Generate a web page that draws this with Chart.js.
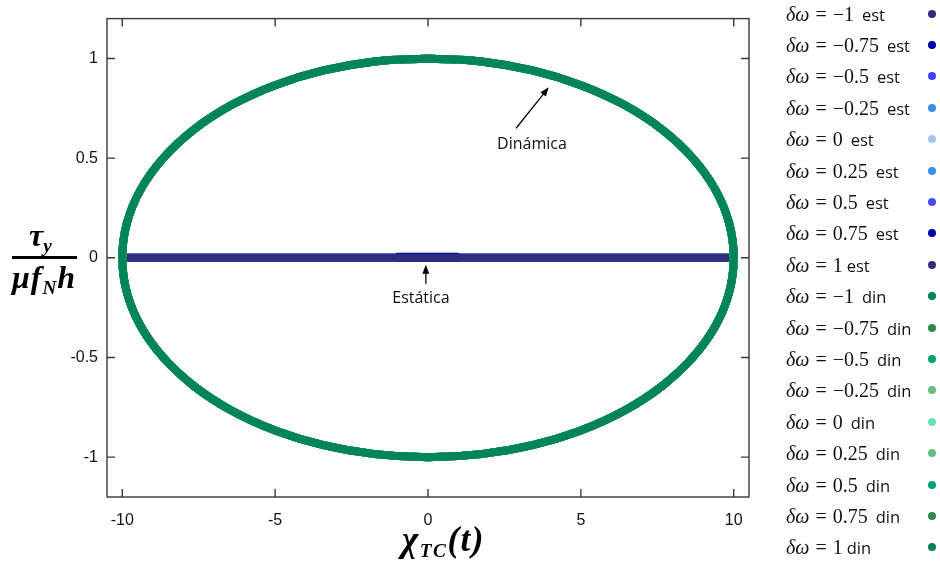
<!DOCTYPE html>
<html>
<head>
<meta charset="utf-8">
<script src="https://cdn.jsdelivr.net/npm/chart.js@4.4.0/dist/chart.umd.min.js"></script>
<style>
  html, body { margin: 0; padding: 0; background: #fff; }
  #wrap { position: relative; width: 940px; height: 563px; overflow: hidden; }
  #wrap canvas { position: absolute; left: 0; top: 0; }
  .row { position: absolute; left: 786px; height: 22px; line-height: 22px; white-space: nowrap; color: #111; }
  .math { font-family: "Liberation Serif", serif; font-size: 20px; word-spacing: 1px; }
  .math i { font-style: italic; }
  .word { font-family: "Open Sans", sans-serif; font-size: 16.5px; }
  .dot { position: absolute; left: 928px; width: 8px; height: 8px; border-radius: 50%; }
  .ttl { position: absolute; font-family: "Liberation Serif", serif; font-weight: bold; font-style: italic; color: #000; white-space: nowrap; }
  .ttl sub { font-size: 60%; vertical-align: baseline; position: relative; top: 0.3em; }
</style>
</head>
<body>
<div id="wrap">
  <canvas id="chart" width="940" height="563"></canvas>
  <div id="legend"></div>
  <div class="ttl" style="left:29px; top:217px; font-size:32px;">τ<sub>y</sub></div>
  <div style="position:absolute; left:12px; top:256px; width:65px; height:3px; background:#000;"></div>
  <div class="ttl" style="left:12px; top:259px; font-size:32px; letter-spacing:1px;">μf<sub>N</sub>h</div>
  <div class="ttl" style="left:402px; top:520px; font-size:35px; letter-spacing:1.5px;">χ<sub style="font-size:55%">TC</sub>(t)</div>
</div>
<script>
// δω values of the runs, and the colours used for each family
const dwLabels = ['−1', '−0.75', '−0.5', '−0.25', '0', '0.25', '0.5', '0.75', '1'];
const estColors = ['#2e2e7c', '#0000a4', '#4444f4', '#3a8fe4', '#a0c6ee', '#3a8fe4', '#4a4af2', '#0000a4', '#2e2e7c'];
const dinColors = ['#00845a', '#2e8a4c', '#009f78', '#68c07c', '#68dfc0', '#68c07c', '#009f78', '#2e8a4c', '#00845a'];

// static runs: flat line along the whole stroke
const chiEst = [-10, -9, -8, -7, -6, -5, -4, -3, -2, -1, 0, 1, 2, 3, 4, 5, 6, 7, 8, 9, 10];
const tauEst = [0, 0, 0, 0, 0, 0, 0, 0, 0, 0, 0, 0, 0, 0, 0, 0, 0, 0, 0, 0, 0];
// short static run around the centre
const chiEstMid = [-1.05, -0.5, 0, 0.5, 1.0];
const tauEstMid = [0.003, 0.003, 0.003, 0.003, 0.003];

// dynamic runs: closed loop, starting at the top
const chiDin = [0, 1.74, 3.42, 5.00, 6.43, 7.66, 8.66, 9.40, 9.85, 10, 9.85, 9.40, 8.66, 7.66, 6.43, 5.00, 3.42, 1.74,
  0, -1.74, -3.42, -5.00, -6.43, -7.66, -8.66, -9.40, -9.85, -10, -9.85, -9.40, -8.66, -7.66, -6.43, -5.00, -3.42, -1.74, 0];
const tauDin = [1, 0.985, 0.94, 0.866, 0.766, 0.643, 0.5, 0.342, 0.174, 0, -0.174, -0.342, -0.5, -0.643, -0.766, -0.866, -0.94, -0.985,
  -1, -0.985, -0.94, -0.866, -0.766, -0.643, -0.5, -0.342, -0.174, 0, 0.174, 0.342, 0.5, 0.643, 0.766, 0.866, 0.94, 0.985, 1];

const xTicks = [-10, -5, 0, 5, 10];
const yTicks = [-1, -0.5, 0, 0.5, 1];

function pts(xs, ys) {
  return xs.map(function(x, i) { return { x: x, y: ys[i] }; });
}

var datasets = [];
var n = 0;
dwLabels.forEach(function(dw, i) {
  var mid = (i === 7);
  datasets.push({
    label: 'δω = ' + dw + ' est',
    data: mid ? pts(chiEstMid, tauEstMid) : pts(chiEst, tauEst),
    borderColor: estColors[i],
    backgroundColor: estColors[i],
    showLine: true,
    borderWidth: mid ? 9 : 8,
    pointRadius: 0,
    order: 40 - n++
  });
});
dwLabels.forEach(function(dw, i) {
  datasets.push({
    label: 'δω = ' + dw + ' din',
    data: pts(chiDin, tauDin),
    borderColor: dinColors[i],
    backgroundColor: dinColors[i],
    showLine: true,
    tension: 0.4,
    borderWidth: 8,
    pointRadius: 0,
    order: 40 - n++
  });
});

// frame, inward tick marks on all four sides, and the two labelled arrows
const framePlugin = {
  id: 'frame',
  afterDatasetsDraw: function(chart) {
    var ctx = chart.ctx, a = chart.chartArea;
    var sx = chart.scales.x, sy = chart.scales.y;
    ctx.save();
    ctx.strokeStyle = '#3a3a3a';
    ctx.lineWidth = 1.4;
    ctx.strokeRect(a.left, a.top, a.right - a.left, a.bottom - a.top);
    ctx.beginPath();
    xTicks.forEach(function(v) {
      var px = sx.getPixelForValue(v);
      ctx.moveTo(px, a.bottom); ctx.lineTo(px, a.bottom - 8);
      ctx.moveTo(px, a.top); ctx.lineTo(px, a.top + 8);
    });
    yTicks.forEach(function(v) {
      var py = sy.getPixelForValue(v);
      ctx.moveTo(a.left, py); ctx.lineTo(a.left + 8, py);
      ctx.moveTo(a.right, py); ctx.lineTo(a.right - 8, py);
    });
    ctx.stroke();

    function arrow(x0, y0, x1, y1) {
      var p0x = sx.getPixelForValue(x0), p0y = sy.getPixelForValue(y0);
      var p1x = sx.getPixelForValue(x1), p1y = sy.getPixelForValue(y1);
      var ang = Math.atan2(p1y - p0y, p1x - p0x);
      ctx.strokeStyle = '#000';
      ctx.fillStyle = '#000';
      ctx.lineWidth = 1.3;
      ctx.beginPath();
      ctx.moveTo(p0x, p0y);
      ctx.lineTo(p1x - 6 * Math.cos(ang), p1y - 6 * Math.sin(ang));
      ctx.stroke();
      ctx.beginPath();
      ctx.moveTo(p1x, p1y);
      ctx.lineTo(p1x - 9 * Math.cos(ang) + 3.5 * Math.sin(ang), p1y - 9 * Math.sin(ang) - 3.5 * Math.cos(ang));
      ctx.lineTo(p1x - 9 * Math.cos(ang) - 3.5 * Math.sin(ang), p1y - 9 * Math.sin(ang) + 3.5 * Math.cos(ang));
      ctx.closePath();
      ctx.fill();
    }
    arrow(2.88, 0.65, 3.95, 0.855);
    arrow(-0.07, -0.13, -0.07, -0.035);

    ctx.font = '16px "Open Sans", sans-serif';
    ctx.fillStyle = '#111';
    ctx.textAlign = 'center';
    ctx.textBaseline = 'middle';
    ctx.fillText('Dinámica', sx.getPixelForValue(3.4), sy.getPixelForValue(0.57));
    ctx.fillText('Estática', sx.getPixelForValue(-0.23), sy.getPixelForValue(-0.205));
    ctx.restore();
  }
};

var chart = new Chart(document.getElementById('chart'), {
  type: 'scatter',
  data: { datasets: datasets },
  options: {
    responsive: false,
    animation: false,
    layout: { autoPadding: false, padding: { top: 18, right: 191, left: 0, bottom: 0 } },
    plugins: { legend: { display: false }, tooltip: { enabled: false } },
    scales: {
      x: {
        min: -10.5, max: 10.5,
        grid: { display: false, drawTicks: false },
        border: { display: false },
        afterBuildTicks: function(s) { s.ticks = xTicks.map(function(v) { return { value: v }; }); },
        afterFit: function(s) { s.height = 66; },
        ticks: {
          padding: 14,
          color: '#111',
          font: { family: '"Liberation Sans", sans-serif', size: 16 },
          callback: function(v) { return String(v); }
        }
      },
      y: {
        min: -1.2, max: 1.2,
        grid: { display: false, drawTicks: false },
        border: { display: false },
        afterBuildTicks: function(s) { s.ticks = yTicks.map(function(v) { return { value: v }; }); },
        afterFit: function(s) { s.width = 107; },
        ticks: {
          padding: 9,
          color: '#111',
          font: { family: '"Liberation Sans", sans-serif', size: 16 },
          callback: function(v) { return String(v); }
        }
      }
    }
  },
  plugins: [framePlugin]
});

// legend down the right side, text first and dot after
var legend = document.getElementById('legend');
datasets.forEach(function(ds, i) {
  var cy = 13.5 + i * 31.4;
  var kind = i < 9 ? 'est' : 'din';
  var dw = dwLabels[i % 9];
  var row = document.createElement('div');
  row.className = 'row';
  row.style.top = (cy - 11) + 'px';
  row.innerHTML = '<span class="math"><i>δω</i> = ' + dw + '</span>' +
    (dw === '1' ? ' ' : '&nbsp; ') + '<span class="word">' + kind + '</span>';
  legend.appendChild(row);
  var dot = document.createElement('div');
  dot.className = 'dot';
  dot.style.top = (cy - 4) + 'px';
  dot.style.background = ds.backgroundColor;
  legend.appendChild(dot);
});
</script>
</body>
</html>
